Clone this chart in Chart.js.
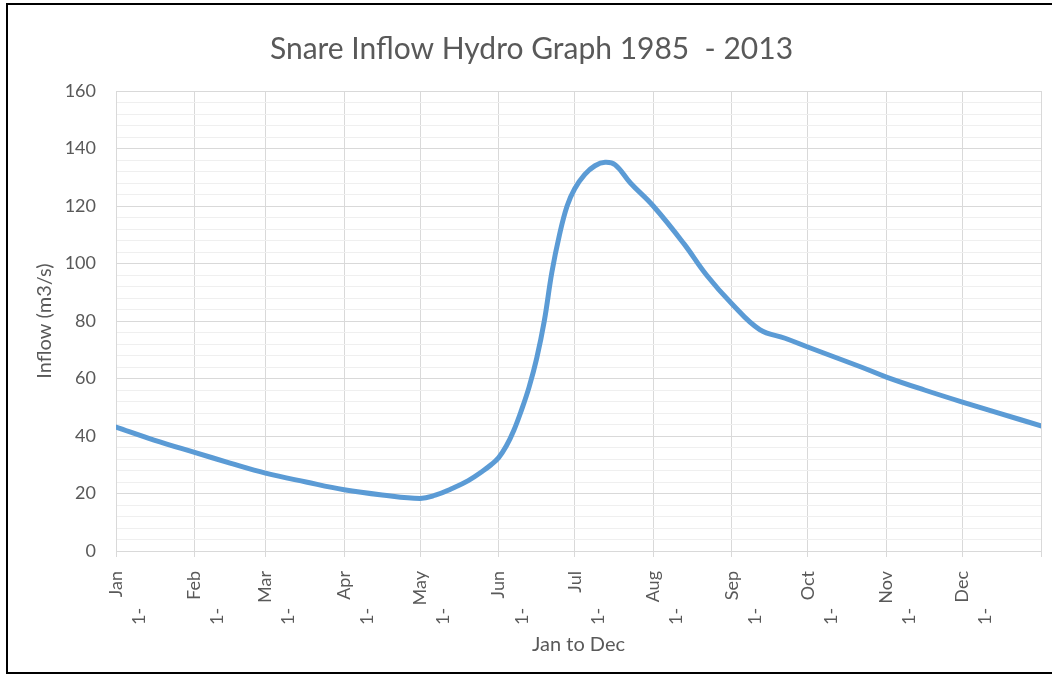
<!DOCTYPE html>
<html>
<head>
<meta charset="utf-8">
<title>Snare Inflow Hydro Graph 1985 - 2013</title>
<script src="https://cdn.jsdelivr.net/npm/chart.js@4/dist/chart.umd.min.js"></script>
<style>
  html, body { margin: 0; padding: 0; background: #fff; overflow: hidden; }
  canvas { display: block; }
</style>
</head>
<body>
<canvas id="chart" width="1052" height="675"></canvas>
<script>
// Day of year (0 = 1 Jan) and mean inflow (m3/s), 1985 - 2013
const dayOfYear = [0, 15, 31, 45, 59, 75, 90, 105, 120, 126,
                   132, 139, 145, 148, 151, 154, 157, 160, 163, 166,
                   169, 172, 175, 178, 181, 185, 189, 193, 197, 203,
                   212, 224, 233, 243, 254, 264, 274, 294, 304, 319,
                   334, 349, 365];
const inflow = [43.1, 38.6, 34.3, 30.6, 27.1, 24.0, 21.3, 19.5, 18.3, 19.4,
                21.5, 24.5, 28.0, 30.0, 32.5, 36.5, 42, 49, 57, 67,
                80, 97, 110, 120, 126, 131, 134, 135.2, 134.3, 128,
                120, 107, 96, 86, 77, 74, 70.6, 64, 60.5, 56,
                51.8, 47.8, 43.5];

// Month start days and their labels
const monthStartDays = [0, 31, 59, 90, 120, 151, 181, 212, 243, 273, 304, 334, 365];
const monthLabels = ['Jan', 'Feb', 'Mar', 'Apr', 'May', 'Jun', 'Jul', 'Aug', 'Sep', 'Oct', 'Nov', 'Dec', ''];

const yMin = 0, yMax = 160, yMajorStep = 20, yMinorStep = 4;

const FONT = 'Lato, "Open Sans", sans-serif';
const TEXT = '#595959';
const GRID_MAJOR = '#d9d9d9';
const GRID_MINOR = '#efefef';

const points = dayOfYear.map((d, i) => ({ x: d, y: inflow[i] }));

// Black outline around the chart object (open on the right, where it runs off the page)
const chartFrame = {
  id: 'chartFrame',
  afterDraw(chart) {
    const ctx = chart.ctx;
    ctx.save();
    ctx.strokeStyle = '#000';
    ctx.lineWidth = 2;
    ctx.beginPath();
    ctx.moveTo(chart.width + 2, 4);
    ctx.lineTo(7, 4);
    ctx.lineTo(7, 673);
    ctx.lineTo(chart.width + 2, 673);
    ctx.stroke();
    ctx.restore();
  }
};

new Chart(document.getElementById('chart'), {
  type: 'line',
  data: {
    datasets: [{
      label: 'Inflow',
      data: points,
      borderColor: '#5B9BD5',
      borderWidth: 5,
      borderCapStyle: 'round',
      borderJoinStyle: 'round',
      pointRadius: 0,
      fill: false,
      tension: 0.4
    }]
  },
  plugins: [chartFrame],
  options: {
    responsive: false,
    animation: false,
    layout: { padding: { left: 22, right: 11, top: 0, bottom: 0 } },
    plugins: {
      legend: { display: false },
      tooltip: { enabled: false },
      title: {
        display: true,
        text: 'Snare Inflow Hydro Graph 1985  - 2013',
        color: TEXT,
        font: { family: FONT, size: 30, weight: 'normal', lineHeight: 1.2 },
        padding: { top: 31, bottom: 24 }
      }
    },
    scales: {
      x: {
        type: 'linear',
        min: monthStartDays[0],
        max: monthStartDays[monthStartDays.length - 1],
        afterBuildTicks: (scale) => {
          scale.ticks = monthStartDays.map(v => ({ value: v }));
        },
        afterFit: (scale) => {
          scale.height = 124;
          scale.paddingLeft = 0;
          scale.paddingRight = 0;
        },
        grid: { color: GRID_MAJOR, tickLength: 6, tickColor: GRID_MAJOR },
        border: { color: GRID_MAJOR },
        ticks: {
          autoSkip: false,
          minRotation: 90,
          maxRotation: 90,
          padding: 14,
          color: TEXT,
          font: { family: FONT, size: 18, lineHeight: 1.28 },
          callback: (value) => {
            const i = monthStartDays.indexOf(value);
            const m = i >= 0 ? monthLabels[i] : '';
            return m ? [m, '1-' + ' '.repeat(8)] : '';
          }
        },
        title: {
          display: true,
          text: 'Jan to Dec',
          color: TEXT,
          font: { family: FONT, size: 20, lineHeight: 1.2 },
          padding: { top: 0, bottom: 18 }
        }
      },
      y: {
        min: yMin,
        max: yMax,
        afterFit: (scale) => { scale.width = 94; },
        grid: {
          drawTicks: false,
          color: (ctx) => (ctx.tick && ctx.tick.value % yMajorStep === 0) ? GRID_MAJOR : GRID_MINOR
        },
        border: { color: GRID_MAJOR },
        ticks: {
          stepSize: yMinorStep,
          autoSkip: false,
          padding: 20,
          color: TEXT,
          font: { family: FONT, size: 18 },
          callback: (value) => value % yMajorStep === 0 ? value : ''
        },
        title: {
          display: true,
          text: 'Inflow (m3/s)',
          color: TEXT,
          font: { family: FONT, size: 20, lineHeight: 1.2 },
          padding: { top: 11, bottom: 0 }
        }
      }
    }
  }
});
</script>
</body>
</html>
